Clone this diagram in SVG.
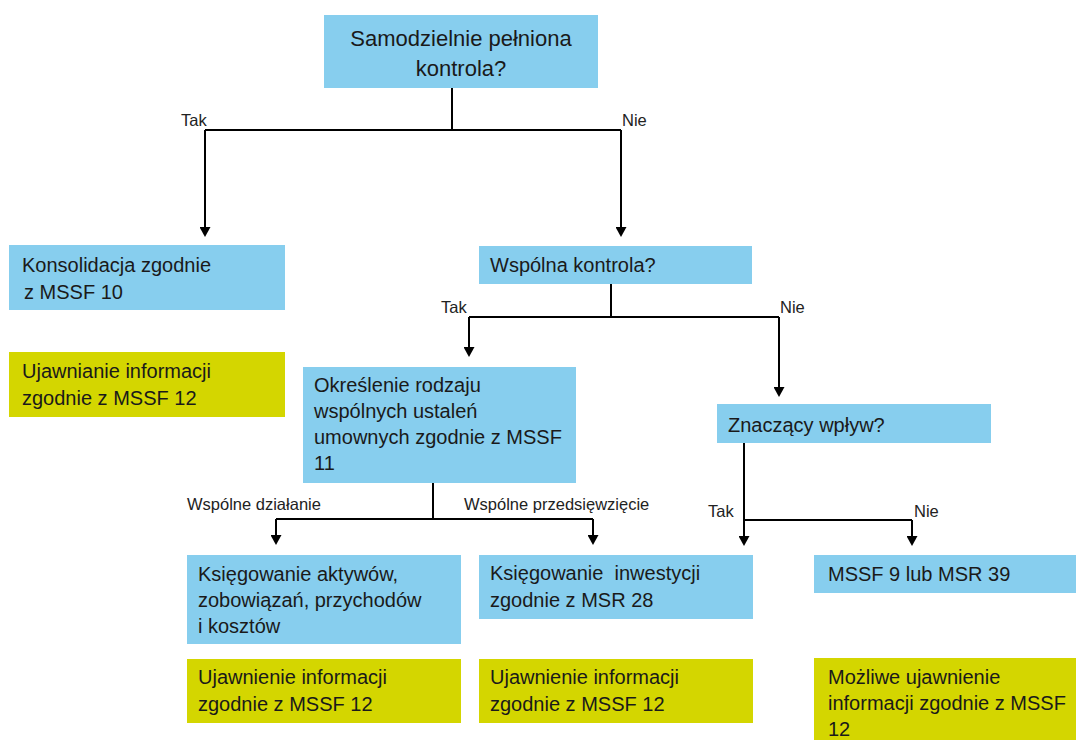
<svg xmlns="http://www.w3.org/2000/svg" width="1076" height="740" viewBox="0 0 1076 740">
<style>
.b{fill:#87CEEE}
.y{fill:#D4D600}
.t{font-family:"Liberation Sans",Arial,sans-serif;font-size:20px;fill:#1a1a1a;white-space:pre}
.h{font-size:22px}
.l{font-family:"Liberation Sans",Arial,sans-serif;font-size:16.5px;fill:#222}
.c{fill:none;stroke:#000;stroke-width:2}
</style>
<defs>
<marker id="ah" viewBox="0 0 10 11" refX="5" refY="5.5" markerWidth="10" markerHeight="11" markerUnits="userSpaceOnUse" orient="auto">
<path d="M0,0 L10,5.5 L0,11 z" fill="#000"/>
</marker>
</defs>
<rect width="1076" height="740" fill="#fff"/>
<g id="connectors">
<path class="c" d="M452,88 V130 M205,130 H621"/>
<path class="c" d="M205,130 V232" marker-end="url(#ah)"/>
<path class="c" d="M621,130 V232" marker-end="url(#ah)"/>
<path class="c" d="M611,284 V317 M469,317 H779"/>
<path class="c" d="M469,317 V352" marker-end="url(#ah)"/>
<path class="c" d="M779,317 V392" marker-end="url(#ah)"/>
<path class="c" d="M433,483 V519 M276,519 H593"/>
<path class="c" d="M276,519 V540" marker-end="url(#ah)"/>
<path class="c" d="M593,519 V540" marker-end="url(#ah)"/>
<path class="c" d="M744,443 V541" marker-end="url(#ah)"/>
<path class="c" d="M744,520 H912"/>
<path class="c" d="M912,520 V541" marker-end="url(#ah)"/>
<text class="l" x="181" y="126">Tak</text>
<text class="l" x="622" y="126">Nie</text>
<text class="l" x="441" y="313">Tak</text>
<text class="l" x="780" y="313">Nie</text>
<text class="l" x="187" y="510">Wspólne działanie</text>
<text class="l" x="464" y="510">Wspólne przedsięwzięcie</text>
<text class="l" x="708" y="517">Tak</text>
<text class="l" x="914" y="517">Nie</text>
</g>
<g id="n-samodzielnie">
<rect class="b" x="324" y="15" width="274" height="73"/>
<text class="t h" x="461" y="46" text-anchor="middle">Samodzielnie pełniona</text>
<text class="t h" x="461" y="76" text-anchor="middle">kontrola?</text>
</g>
<g id="n-konsolidacja">
<rect class="b" x="9" y="245" width="276" height="65"/>
<text class="t" x="22" y="272">Konsolidacja zgodnie</text>
<text class="t" x="24" y="299">z MSSF 10</text>
</g>
<g id="n-ujawnianie">
<rect class="y" x="9" y="352" width="276" height="65"/>
<text class="t" x="22" y="378">Ujawnianie informacji</text>
<text class="t" x="22" y="405">zgodnie z MSSF 12</text>
</g>
<g id="n-wspolna">
<rect class="b" x="479" y="246" width="273" height="38"/>
<text class="t" x="490" y="272">Wspólna kontrola?</text>
</g>
<g id="n-okreslenie">
<rect class="b" x="303" y="367" width="273" height="116"/>
<text class="t" x="314" y="392">Określenie rodzaju</text>
<text class="t" x="314" y="418">wspólnych ustaleń</text>
<text class="t" x="314" y="444">umownych zgodnie z MSSF</text>
<text class="t" x="314" y="470">11</text>
</g>
<g id="n-znaczacy">
<rect class="b" x="717" y="404" width="274" height="39"/>
<text class="t" x="728" y="432">Znaczący wpływ?</text>
</g>
<g id="n-ksiegowanie-aktywow">
<rect class="b" x="187" y="555" width="274" height="89"/>
<text class="t" x="198" y="581">Księgowanie aktywów,</text>
<text class="t" x="198" y="607">zobowiązań, przychodów</text>
<text class="t" x="198" y="633">i kosztów</text>
</g>
<g id="n-ujawnienie-1">
<rect class="y" x="187" y="659" width="274" height="64"/>
<text class="t" x="198" y="684">Ujawnienie informacji</text>
<text class="t" x="198" y="711">zgodnie z MSSF 12</text>
</g>
<g id="n-ksiegowanie-inwestycji">
<rect class="b" x="479" y="555" width="274" height="64"/>
<text class="t" x="490" y="580">Księgowanie  inwestycji</text>
<text class="t" x="490" y="607">zgodnie z MSR 28</text>
</g>
<g id="n-ujawnienie-2">
<rect class="y" x="479" y="659" width="274" height="64"/>
<text class="t" x="490" y="684">Ujawnienie informacji</text>
<text class="t" x="490" y="711">zgodnie z MSSF 12</text>
</g>
<g id="n-mssf9">
<rect class="b" x="814" y="555" width="262" height="38"/>
<text class="t" x="828" y="581">MSSF 9 lub MSR 39</text>
</g>
<g id="n-mozliwe">
<rect class="y" x="814" y="658" width="262" height="82"/>
<text class="t" x="828" y="684">Możliwe ujawnienie</text>
<text class="t" x="828" y="710">informacji zgodnie z MSSF</text>
<text class="t" x="828" y="736">12</text>
</g>
</svg>
